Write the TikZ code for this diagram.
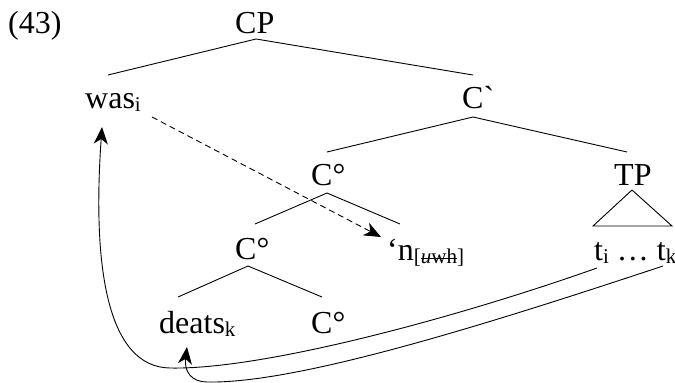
\documentclass[tikz,border=0pt]{standalone}
\usepackage{fontspec}
\setmainfont{Liberation Serif}
\usetikzlibrary{arrows.meta}
\newcommand\lsub[1]{\raisebox{-3.5pt}{\fontsize{21}{21}\selectfont #1}}
\newcommand\strk[1]{\setbox0\hbox{#1}\rlap{\rule[4.8pt]{\wd0}{0.6pt}}\box0}
\newcommand\gravemark{{\addfontfeature{Ligatures=TeXOff}\char"0060}}
\tikzset{movetip/.tip={Stealth[length=17pt,width=14pt,inset=5pt]}}
\begin{document}
\begin{tikzpicture}[x=1pt,y=-1pt,
  lbl/.style={inner sep=0pt,anchor=base west,font=\fontsize{32}{38}\selectfont},
  br/.style={line width=0.9pt},
  mv/.style={line width=0.9pt,-movetip}]
\useasboundingbox (0,0) rectangle (675,383);
% labels
\node[lbl] (ex) at (8,33) {(43)};
\node[lbl] (cp) at (235,33) {CP};
\node[lbl] (was) at (85,108) {was\lsub{i}};
\node[lbl] (cbar) at (462,108) {C\gravemark};
\node[lbl] (cmid) at (311,185) {C°};
\node[lbl] (tp) at (614,185) {TP};
\node[lbl] (clow) at (235,259) {C°};
\node[lbl] (n) at (387,260) {‘n\lsub{[\strk{\textit{u}wh}]}};
\node[lbl] (tr) at (594,260) {t\lsub{i} … t\lsub{k}};
\node[lbl] (deats) at (159,333) {deats\lsub{k}};
\node[lbl] (cr) at (311,333) {C°};
% branch points
\coordinate (cp-b) at (256,39);
\coordinate (was-t) at (108,75);
\coordinate (cbar-t) at (473,75);
\coordinate (cbar-b) at (473,117);
\coordinate (cmid-t) at (327,152);
\coordinate (tp-t) at (627,152);
\coordinate (cmid-b) at (327,193);
\coordinate (clow-t) at (255,224);
\coordinate (n-t) at (400,224);
\coordinate (tp-b) at (632,190);
\coordinate (tr-l) at (593,226);
\coordinate (tr-r) at (672,226);
\coordinate (clow-b) at (248,266);
\coordinate (deats-t) at (178,297);
\coordinate (cr-t) at (322,297);
% movement points
\coordinate (was-s) at (152,117);
\coordinate (n-e) at (381,237);
\coordinate (ti-s) at (597,268);
\coordinate (was-e) at (102,127);
\coordinate (tk-s) at (663,266);
\coordinate (deats-e) at (187,347);
% tree branches
\draw[br] (was-t) -- (cp-b) -- (cbar-t);
\draw[br] (cmid-t) -- (cbar-b) -- (tp-t);
\draw[br] (clow-t) -- (cmid-b) -- (n-t);
\draw[br] (tp-b) -- (tr-l) -- (tr-r) -- cycle;
\draw[br] (deats-t) -- (clow-b) -- (cr-t);
% movement arrows
\draw[mv,dash pattern=on 6pt off 4pt] (was-s) -- (n-e);
\draw[mv] (ti-s) .. controls (450,320) and (260,370) .. (170,368)
  .. controls (108,367) and (92,270) .. (was-e);
\draw[mv] (tk-s) .. controls (500,320) and (300,384) .. (207,382)
  .. controls (192,382) and (184,372) .. (deats-e);
\end{tikzpicture}
\end{document}
